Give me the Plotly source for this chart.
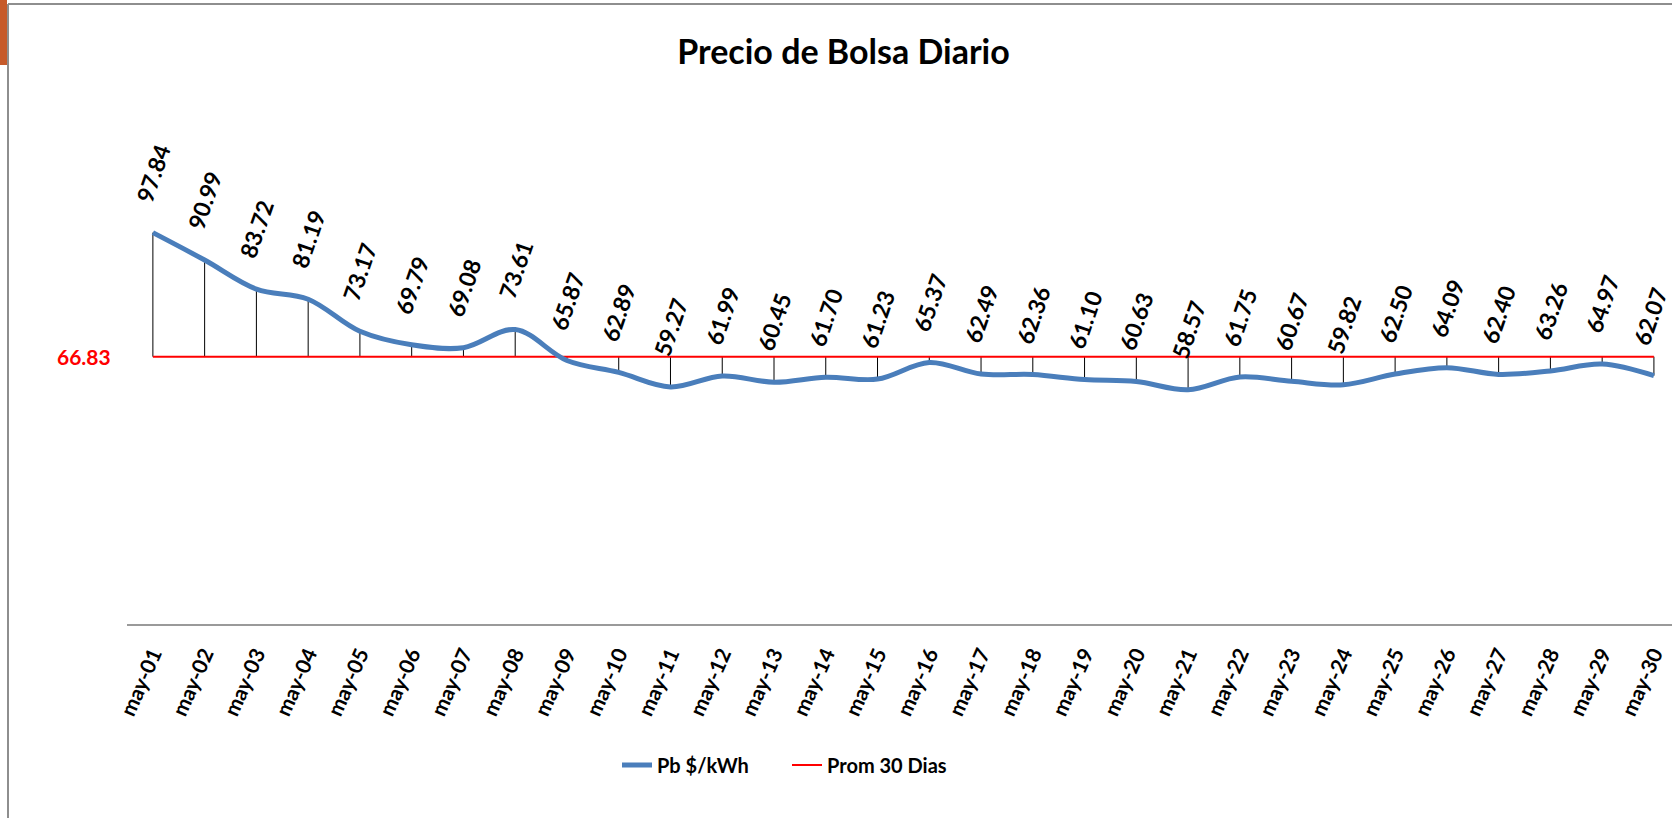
import plotly.graph_objects as go

# ---- data ----
dates = ["may-%02d" % d for d in range(1, 31)]
prices = [97.84, 90.99, 83.72, 81.19, 73.17, 69.79, 69.08, 73.61, 65.87, 62.89,
          59.27, 61.99, 60.45, 61.70, 61.23, 65.37, 62.49, 62.36, 61.10, 60.63,
          58.57, 61.75, 60.67, 59.82, 62.50, 64.09, 62.40, 63.26, 64.97, 62.07]
avg_label = 66.83
avg_series = [avg_label] * len(dates)
series_names = ["Pb $/kWh", "Prom 30 Dias"]
title_text = "Precio de Bolsa Diario"

# ---- layout geometry (pixels) ----
W, H = 1672, 818
L, R, T, B = 127, 1672, 144, 624
plot_w, plot_h = R - L, B - T
cat_step = 51.76


def px(xp):
    return (xp - L) / plot_w


def py(yp):
    return (B - yp) / plot_h


FONT = "Lato, Roboto, Open Sans, sans-serif"
BLUE = "#4A7EBB"

fig = go.Figure()

# drop lines (high-low lines) between the two series
dx, dy = [], []
for d, p, a in zip(dates, prices, avg_series):
    dx += [d, d, None]
    dy += [p, a, None]
fig.add_trace(go.Scatter(x=dx, y=dy, mode="lines", line=dict(color="black", width=1),
                         showlegend=False, hoverinfo="skip"))

fig.add_trace(go.Scatter(x=dates, y=avg_series, mode="lines", name="<b>%s</b>" % series_names[1],
                         line=dict(color="#FF0000", width=2), legendrank=2))
fig.add_trace(go.Scatter(x=dates, y=prices, mode="lines", name="<b>%s</b>" % series_names[0],
                         line=dict(color=BLUE, width=5, shape="spline", smoothing=1.0),
                         legendrank=1))

annotations = []
n = len(dates)
for i, (d, p) in enumerate(zip(dates, prices)):
    annotations.append(dict(x=d, y=p, xref="x", yref="y", text="<b>%.2f</b>" % p,
                            showarrow=False, textangle=-71, xanchor="center",
                            yanchor="middle", yshift=60, xshift=(-4 if i == n - 1 else 0),
                            font=dict(family=FONT, size=23, color="black")))
annotations.append(dict(x=dates[0], y=avg_label, xref="x", yref="y",
                        text="<b>%.2f</b>" % avg_label,
                        showarrow=False, xanchor="right", yanchor="middle", xshift=-40,
                        font=dict(family=FONT, size=21, color="#FF0000")))

shapes = [
    dict(type="rect", xref="paper", yref="paper", x0=px(0), x1=px(7), y0=py(65), y1=py(0),
         fillcolor="#C65A2A", line=dict(width=0), layer="above"),
    dict(type="line", xref="paper", yref="paper", x0=px(8), x1=px(1672), y0=py(4), y1=py(4),
         line=dict(color="#8E8E8E", width=2)),
    dict(type="line", xref="paper", yref="paper", x0=px(8), x1=px(8), y0=py(4), y1=py(818),
         line=dict(color="#8E8E8E", width=2)),
]

fig.update_layout(
    template="none",
    width=W, height=H,
    margin=dict(l=L, r=W - R, t=T, b=H - B, pad=0),
    paper_bgcolor="white", plot_bgcolor="white",
    title=dict(text="<b>%s</b>" % title_text, xref="container", yref="container",
               x=843.5 / W, y=1 - 52 / H, xanchor="center", yanchor="middle",
               font=dict(family=FONT, size=34, color="black")),
    xaxis=dict(type="category", range=[-0.5, -0.5 + plot_w / cat_step],
               showline=True, linecolor="#9A9A9A", linewidth=1.5,
               showgrid=False, zeroline=False, ticks="", tickangle=-66,
               ticklabelstandoff=8, automargin=False,
               tickprefix="<b>", ticksuffix="</b>",
               tickfont=dict(family=FONT, size=21, color="black")),
    yaxis=dict(range=[0, 120], visible=False, showgrid=False, zeroline=False,
               automargin=False),
    legend=dict(orientation="h", x=px(617), y=py(765), xanchor="left", yanchor="middle",
                entrywidth=125, entrywidthmode="pixels",
                font=dict(family=FONT, size=20, color="black"),
                bgcolor="rgba(0,0,0,0)"),
    annotations=annotations,
    shapes=shapes,
    showlegend=True,
)

fig.write_html("out.html", config={"displayModeBar": False},
               post_script="document.body.style.margin='0';document.body.style.padding='0';"
                           "document.body.style.overflow='hidden';")
